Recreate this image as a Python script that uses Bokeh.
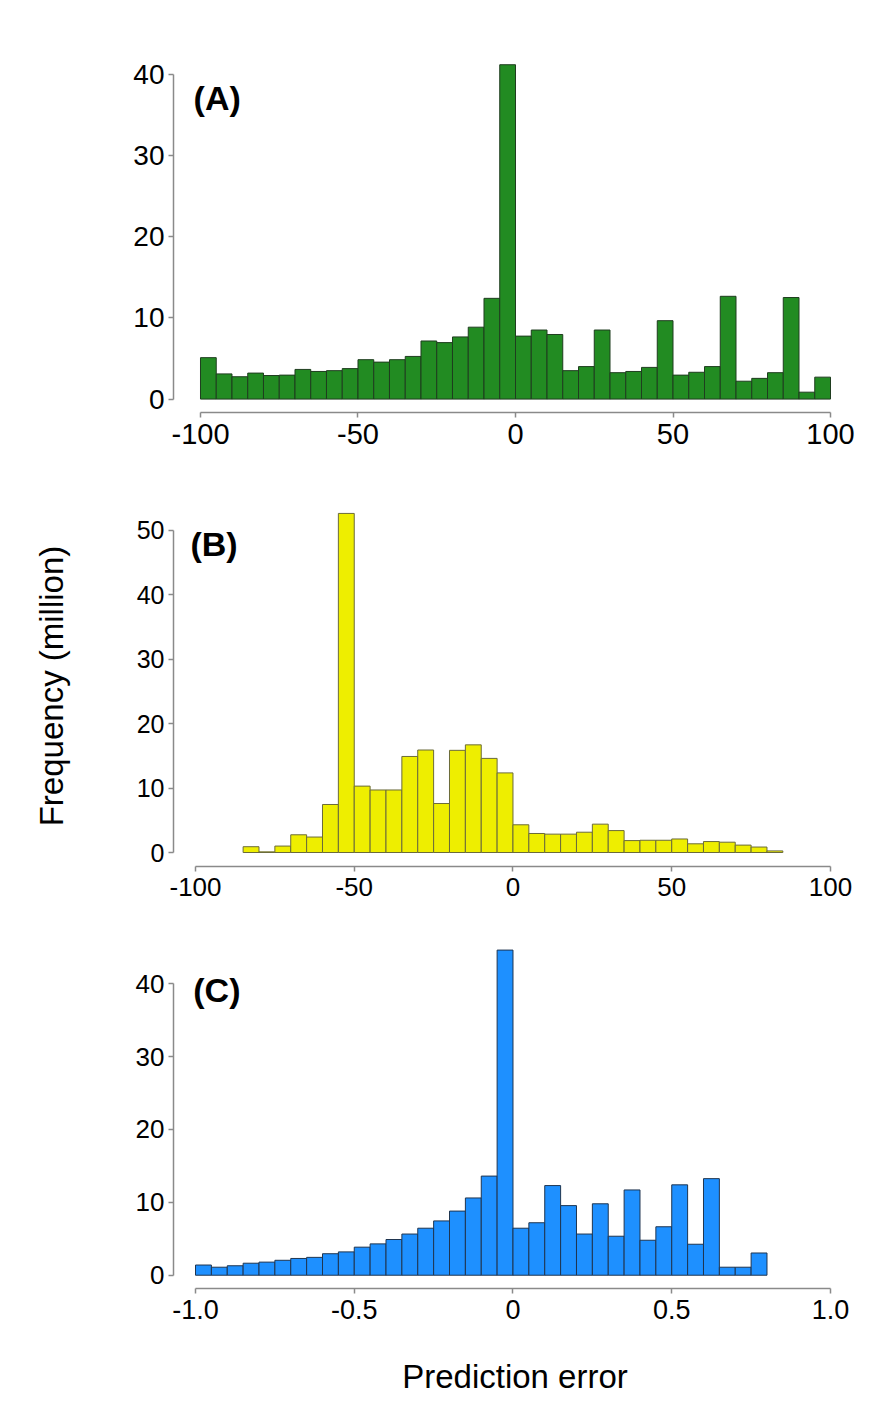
from bokeh.plotting import figure
from bokeh.models import Label, FixedTicker, Range1d
from bokeh.layouts import column
from bokeh.embed import file_html
from bokeh.resources import INLINE

# ---------------- data ----------------
# Panel A: bins of width 5 from -100 to 100
a_edges = list(range(-100, 101, 5))
a_counts = [5.1, 3.1, 2.75, 3.2, 2.9, 2.95, 3.65, 3.4, 3.5, 3.75,
            4.85, 4.55, 4.85, 5.25, 7.15, 6.95, 7.65, 8.85, 12.4, 41.15,
            7.75, 8.5, 7.95, 3.5, 4.0, 8.5, 3.25, 3.4, 3.9, 9.65,
            2.95, 3.3, 4.0, 12.65, 2.2, 2.55, 3.25, 12.5, 0.85, 2.7]

# Panel B: bins of width 5 from -85 to 85
b_edges = list(range(-85, 86, 5))
b_counts = [0.9, 0.1, 1.0, 2.75, 2.4, 7.45, 52.6, 10.3, 9.7, 9.7,
            14.9, 15.9, 7.6, 15.85, 16.7, 14.6, 12.35,
            4.3, 2.95, 2.85, 2.85, 3.15, 4.4, 3.4, 1.85, 1.9,
            1.9, 2.1, 1.35, 1.7, 1.6, 1.15, 0.85, 0.25]

# Panel C: bins of width 0.05 from -1.0 to 0.8
c_edges = [round(-1.0 + 0.05 * i, 2) for i in range(37)]
c_counts = [1.4, 1.1, 1.3, 1.65, 1.8, 2.05, 2.3, 2.45, 2.95, 3.2,
            3.85, 4.3, 4.9, 5.65, 6.45, 7.45, 8.8, 10.6, 13.6, 44.6,
            6.45, 7.2, 12.3, 9.55, 5.65, 9.8, 5.35, 11.7, 4.8, 6.65,
            12.4, 4.25, 13.25, 1.1, 1.1, 3.05]

a_xticks = [-100, -50, 0, 50, 100]
a_xlabels = ["-100", "-50", "0", "50", "100"]
a_yticks = [0, 10, 20, 30, 40]
b_xticks = [-100, -50, 0, 50, 100]
b_xlabels = ["-100", "-50", "0", "50", "100"]
b_yticks = [0, 10, 20, 30, 40, 50]
c_xticks = [-1.0, -0.5, 0.0, 0.5, 1.0]
c_xlabels = ["-1.0", "-0.5", "0", "0.5", "1.0"]
c_yticks = [0, 10, 20, 30, 40]

FONT = "Liberation Sans"
AXIS_COLOR = "#8a8a8a"


def make_panel(edges, counts, xr, yr, fw, fh, borders, xticks, xlabels, yticks,
               xbounds, ybounds, fill, line, tag, tag_xy, xtick_size, ytick_size):
    top, right, bottom, left = borders
    p = figure(frame_width=fw, frame_height=fh,
               x_range=Range1d(*xr), y_range=Range1d(*yr),
               output_backend="svg", toolbar_location=None,
               min_border_top=top, min_border_right=right,
               min_border_bottom=bottom, min_border_left=left)
    p.outline_line_color = None
    p.xgrid.visible = False
    p.ygrid.visible = False
    p.background_fill_color = "white"
    p.border_fill_color = "white"
    p.quad(left=edges[:-1], right=edges[1:], top=counts, bottom=0,
           fill_color=fill, line_color=line, line_width=1)
    for ax, ticks, bounds, size in ((p.xaxis[0], xticks, xbounds, xtick_size),
                                    (p.yaxis[0], yticks, ybounds, ytick_size)):
        ax.ticker = FixedTicker(ticks=ticks)
        ax.bounds = bounds
        ax.axis_line_color = AXIS_COLOR
        ax.axis_line_width = 1.5
        ax.major_tick_line_color = AXIS_COLOR
        ax.major_tick_line_width = 1.5
        ax.major_tick_out = 5
        ax.major_tick_in = 0
        ax.minor_tick_line_color = None
        ax.major_label_text_font = FONT
        ax.major_label_text_font_size = size
        ax.major_label_text_color = "black"
        ax.major_label_standoff = 4
    p.xaxis[0].major_label_standoff = 6
    p.xaxis[0].major_label_overrides = {float(t): s for t, s in zip(xticks, xlabels)}
    p.yaxis[0].major_label_overrides = {float(t): str(t) for t in yticks}
    p.add_layout(Label(x=tag_xy[0], y=tag_xy[1], text=tag, text_font=FONT,
                       text_font_style="bold", text_font_size="34px",
                       text_align="left", text_baseline="middle", text_color="black"))
    return p


p1 = make_panel(a_edges, a_counts, (-108.57, 108.57), (-1.65, 42.04), 684, 355,
                (57, 25, 68, 173), a_xticks, a_xlabels, a_yticks,
                (-100, 100), (0, 40), "#228B22", "#1f3d1f", "(A)", (-102.2, 37.1),
                "29px", "28px")

p2 = make_panel(b_edges, b_counts, (-106.93, 108.2), (-2.17, 53.83), 683, 361,
                (25, 26, 59, 173), b_xticks, b_xlabels, b_yticks,
                (-100, 100), (0, 50), "#EEEE00", "#6b6b3a", "(B)", (-101.6, 47.9),
                "26px", "25px")
p2.yaxis[0].axis_label = "Frequency (million)"
p2.yaxis[0].axis_label_text_font = FONT
p2.yaxis[0].axis_label_text_font_size = "33px"
p2.yaxis[0].axis_label_text_font_style = "normal"
p2.yaxis[0].axis_label_text_color = "black"
p2.yaxis[0].axis_label_standoff = 64

p3 = make_panel(c_edges, c_counts, (-1.0693, 1.0819), (-1.82, 45.23), 683, 343,
                (20, 26, 115, 173), c_xticks, c_xlabels, c_yticks,
                (-1.0, 1.0), (0, 40), "#1E90FF", "#1f3550", "(C)", (-1.007, 39.1),
                "27px", "26px")
p3.xaxis[0].axis_label = "Prediction error"
p3.xaxis[0].axis_label_text_font = FONT
p3.xaxis[0].axis_label_text_font_size = "33px"
p3.xaxis[0].axis_label_text_font_style = "normal"
p3.xaxis[0].axis_label_text_color = "black"
p3.xaxis[0].axis_label_standoff = 36

layout = column(p1, p2, p3, spacing=0)
open("out.html", "w").write(file_html(layout, INLINE))
